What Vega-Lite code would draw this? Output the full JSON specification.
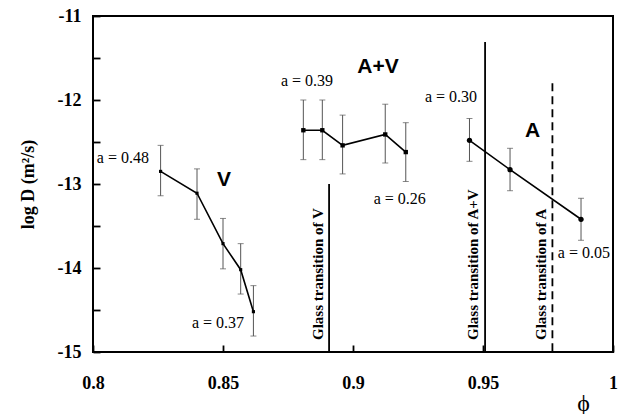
{
  "$schema": "https://vega.github.io/schema/vega-lite/v6.json",
  "width": 520,
  "height": 336,
  "autosize": {"type": "none"},
  "padding": {"left": 93, "top": 16, "right": 5, "bottom": 62},
  "background": "white",
  "config": {
    "view": {"stroke": "black", "strokeWidth": 2},
    "font": "Liberation Serif",
    "axis": {"ticks": true, "tickSize": 7, "tickWidth": 1.8, "tickColor": "black", "domain": false, "grid": false}
  },
  "datasets": {
    "pts": [
      {"s": "V", "x": 0.826, "y": -12.85, "lo": -13.14, "hi": -12.54},
      {"s": "V", "x": 0.840, "y": -13.11, "lo": -13.42, "hi": -12.82},
      {"s": "V", "x": 0.850, "y": -13.71, "lo": -14.01, "hi": -13.41},
      {"s": "V", "x": 0.8568, "y": -14.02, "lo": -14.31, "hi": -13.71},
      {"s": "V", "x": 0.8617, "y": -14.52, "lo": -14.81, "hi": -14.21},
      {"s": "A+V", "x": 0.8809, "y": -12.36, "lo": -12.71, "hi": -12.0},
      {"s": "A+V", "x": 0.8882, "y": -12.36, "lo": -12.71, "hi": -12.0},
      {"s": "A+V", "x": 0.896, "y": -12.54, "lo": -12.88, "hi": -12.18},
      {"s": "A+V", "x": 0.9124, "y": -12.41, "lo": -12.75, "hi": -12.05},
      {"s": "A+V", "x": 0.9203, "y": -12.62, "lo": -12.97, "hi": -12.27},
      {"s": "A", "x": 0.9448, "y": -12.48, "lo": -12.73, "hi": -12.22},
      {"s": "A", "x": 0.9604, "y": -12.83, "lo": -13.08, "hi": -12.575},
      {"s": "A", "x": 0.9877, "y": -13.42, "lo": -13.67, "hi": -13.17}
    ],
    "glass": [
      {"x": 0.8908, "top": -13.0, "bottom": -15, "dash": "solid", "label": "Glass transition of V", "tx": 0.8885},
      {"x": 0.9508, "top": -11.31, "bottom": -15, "dash": "solid", "label": "Glass transition of A+V", "tx": 0.9481},
      {"x": 0.9767, "top": -11.8, "bottom": -15, "dash": "dashed", "label": "Glass transition of A", "tx": 0.9742}
    ],
    "ann": [
      {"x": 0.8115, "y": -12.69, "t": "a = 0.48"},
      {"x": 0.8823, "y": -11.77, "t": "a = 0.39"},
      {"x": 0.8481, "y": -14.655, "t": "a = 0.37"},
      {"x": 0.918, "y": -13.18, "t": "a = 0.26"},
      {"x": 0.9377, "y": -11.96, "t": "a = 0.30"},
      {"x": 0.9888, "y": -13.82, "t": "a = 0.05"}
    ],
    "big": [
      {"x": 0.8504, "y": -12.95, "t": "V"},
      {"x": 0.9096, "y": -11.607, "t": "A+V"},
      {"x": 0.9691, "y": -12.366, "t": "A"}
    ]
  },
  "layer": [
    {
      "data": {"name": "pts"},
      "mark": {"type": "rule", "color": "#555", "strokeWidth": 1},
      "encoding": {
        "x": {
          "field": "x", "type": "quantitative",
          "scale": {"domain": [0.8, 1], "nice": false, "zero": false},
          "axis": {
            "values": [0.8, 0.85, 0.9, 0.95, 1],
            "offset": -7,
            "labelExpr": "datum.value == 1 ? '1' : format(datum.value, '.2~f')",
            "labelFont": "Liberation Serif", "labelFontWeight": "bold", "labelFontSize": 18, "labelColor": "black",
            "labelPadding": 22, "labelFlush": false,
            "title": "ϕ", "titleFont": "Liberation Serif", "titleFontWeight": "normal", "titleFontSize": 24,
            "titleColor": "black", "titleX": 490, "titleY": 58, "titleBaseline": "middle", "titleAlign": "center"
          }
        },
        "y": {
          "field": "lo", "type": "quantitative",
          "scale": {"domain": [-15, -11], "nice": false, "zero": false},
          "axis": {
            "values": [-15, -14.5, -14, -13.5, -13, -12.5, -12, -11.5, -11],
            "offset": -7,
            "labelExpr": "datum.value % 1 == 0 ? datum.value : ''",
            "labelFont": "Liberation Serif", "labelFontWeight": "bold", "labelFontSize": 18, "labelColor": "black",
            "labelPadding": 12,
            "title": "log D (m²/s)", "titleFont": "Liberation Serif", "titleFontWeight": "bold", "titleFontSize": 18,
            "titleColor": "black", "titlePadding": 20
          }
        },
        "y2": {"field": "hi"}
      }
    },
    {
      "data": {"name": "pts"},
      "mark": {"type": "tick", "color": "#555", "orient": "horizontal", "size": 6, "thickness": 1},
      "encoding": {
        "x": {"field": "x", "type": "quantitative"},
        "y": {"field": "lo", "type": "quantitative"}
      }
    },
    {
      "data": {"name": "pts"},
      "mark": {"type": "tick", "color": "#555", "orient": "horizontal", "size": 6, "thickness": 1},
      "encoding": {
        "x": {"field": "x", "type": "quantitative"},
        "y": {"field": "hi", "type": "quantitative"}
      }
    },
    {
      "data": {"name": "pts"},
      "mark": {"type": "line", "color": "black", "strokeWidth": 1.6},
      "encoding": {
        "x": {"field": "x", "type": "quantitative"},
        "y": {"field": "y", "type": "quantitative"},
        "detail": {"field": "s"}
      }
    },
    {
      "data": {"name": "pts"},
      "mark": {"type": "point", "filled": true, "opacity": 1, "color": "black"},
      "encoding": {
        "x": {"field": "x", "type": "quantitative"},
        "y": {"field": "y", "type": "quantitative"},
        "shape": {"field": "s", "type": "nominal", "scale": {"domain": ["V", "A+V", "A"], "range": ["square", "square", "circle"]}, "legend": null},
        "size": {"field": "s", "type": "nominal", "scale": {"domain": ["V", "A+V", "A"], "range": [10, 28, 20]}, "legend": null}
      }
    },
    {
      "data": {"name": "glass"},
      "mark": {"type": "rule", "color": "black", "strokeWidth": 1.8},
      "encoding": {
        "x": {"field": "x", "type": "quantitative"},
        "y": {"field": "top", "type": "quantitative"},
        "y2": {"field": "bottom"},
        "strokeDash": {"field": "dash", "type": "nominal", "scale": {"domain": ["solid", "dashed"], "range": [[1, 0], [8, 5]]}, "legend": null}
      }
    },
    {
      "data": {"name": "glass"},
      "mark": {"type": "text", "angle": 270, "align": "left", "baseline": "alphabetic", "font": "Liberation Serif", "fontWeight": "bold", "fontSize": 15, "color": "black"},
      "encoding": {
        "x": {"field": "tx", "type": "quantitative"},
        "y": {"datum": -14.857, "type": "quantitative"},
        "text": {"field": "label"}
      }
    },
    {
      "data": {"name": "ann"},
      "mark": {"type": "text", "align": "center", "baseline": "middle", "font": "Liberation Serif", "fontSize": 16, "color": "black"},
      "encoding": {
        "x": {"field": "x", "type": "quantitative"},
        "y": {"field": "y", "type": "quantitative"},
        "text": {"field": "t"}
      }
    },
    {
      "data": {"name": "big"},
      "mark": {"type": "text", "align": "center", "baseline": "middle", "font": "Liberation Sans", "fontWeight": "bold", "fontSize": 21, "color": "black"},
      "encoding": {
        "x": {"field": "x", "type": "quantitative"},
        "y": {"field": "y", "type": "quantitative"},
        "text": {"field": "t"}
      }
    }
  ]
}
